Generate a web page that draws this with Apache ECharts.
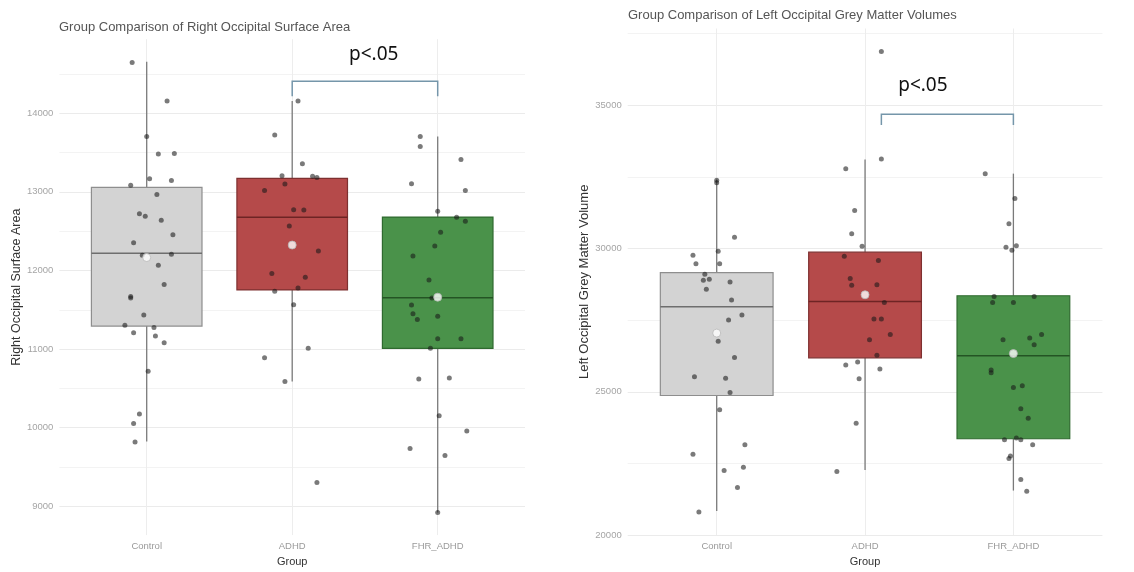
<!DOCTYPE html>
<html>
<head>
<meta charset="utf-8">
<script src="https://cdn.jsdelivr.net/npm/echarts@6/dist/echarts.min.js"></script>
<style>html,body{margin:0;padding:0;background:#fff;}#c{width:1134px;height:572px;}</style>
</head>
<body>
<div id="c"></div>
<script>
// ---------- DATA ----------
const categories = ['Control', 'ADHD', 'FHR_ADHD'];

// Left panel: Right Occipital Surface Area
const leftTitle = 'Group Comparison of Right Occipital Surface Area';
const leftYName = 'Right Occipital Surface Area';
const leftTicks = [9000, 10000, 11000, 12000, 13000, 14000];
const leftMinorTicks = [9500, 10500, 11500, 12500, 13500, 14500];
// [min, Q1, median, Q3, max]
const leftControlBox = [9824, 11292, 12218, 13057, 14654];
const leftAdhdBox = [10587, 11752, 12675, 13170, 14155];
const leftFhrBox = [8922, 11010, 11652, 12679, 13702];
const leftMeans = [12164, 12323, 11660];
const leftControlVals = [14645, 14155, 13702, 13480, 13488, 13166, 13145, 13082, 12965, 12721, 12688, 12637, 12453, 12352, 12193, 12206, 12067, 11820, 11670, 11650, 11434, 11304, 11275, 11208, 11166, 11082, 10717, 10176, 10054, 9820];
const leftControlJit = [-0.10, 0.14, 0.00, 0.08, 0.19, 0.02, 0.17, -0.11, 0.07, -0.05, -0.01, 0.10, 0.18, -0.09, -0.03, 0.17, 0.08, 0.12, -0.11, -0.11, -0.02, -0.15, 0.05, -0.09, 0.06, 0.12, 0.01, -0.05, -0.09, -0.08];
const leftAdhdVals = [14155, 13723, 13358, 13204, 13199, 13182, 13098, 13015, 12771, 12767, 12566, 12248, 11962, 11912, 11736, 11777, 11564, 11010, 10889, 10587, 9304];
const leftAdhdJit = [0.04, -0.12, 0.07, -0.07, 0.14, 0.17, -0.05, -0.19, 0.01, 0.08, -0.02, 0.18, -0.14, 0.09, -0.12, 0.04, 0.01, 0.11, -0.19, -0.05, 0.17];
const leftFhrVals = [13702, 13576, 13409, 13103, 13015, 12751, 12675, 12625, 12487, 12310, 12184, 11878, 11651, 11560, 11450, 11375, 11417, 11132, 11132, 11010, 10620, 10633, 10151, 9958, 9736, 9648, 8922];
const leftFhrJit = [-0.12, -0.12, 0.16, -0.18, 0.19, 0.00, 0.13, 0.19, 0.02, -0.02, -0.17, -0.06, -0.04, -0.18, -0.17, -0.14, 0.00, 0.00, 0.16, -0.05, -0.13, 0.08, 0.01, 0.20, -0.19, 0.05, 0.00];
// bracket: [x1, x2, yTop, yLegEnd], text: [x, y]
const leftBracket = [2, 3, 14406, 14214];
const leftPText = [2.56, 14742];

// Right panel: Left Occipital Grey Matter Volume
const rightTitle = 'Group Comparison of Left Occipital Grey Matter Volumes';
const rightYName = 'Left Occipital Grey Matter Volume';
const rightTicks = [20000, 25000, 30000, 35000];
const rightMinorTicks = [22500, 27500, 32500, 37500];
const rightControlBox = [20838, 24872, 27972, 29158, 32408];
const rightAdhdBox = [22269, 26186, 28156, 29874, 33110];
const rightFhrBox = [21554, 23362, 26255, 28353, 32615];
const rightMeans = [27050, 28387, 26336];
const rightControlVals = [32383, 32293, 30392, 29770, 29908, 29469, 29469, 29100, 28927, 28892, 28835, 28582, 28202, 27684, 27511, 26763, 26196, 25529, 25470, 24976, 24378, 23154, 22822, 22256, 22371, 21657, 20803];
const rightControlJit = [0.00, 0.00, 0.12, -0.16, 0.01, -0.14, 0.02, -0.08, -0.05, -0.09, 0.09, -0.07, 0.10, 0.17, 0.08, 0.01, 0.12, -0.15, 0.06, 0.09, 0.02, 0.19, -0.16, 0.05, 0.18, 0.14, -0.12];
const rightAdhdVals = [36877, 33123, 32788, 31326, 30517, 30081, 29735, 29584, 28951, 28733, 28720, 28121, 27544, 27544, 27004, 26817, 26278, 25933, 26038, 25796, 25460, 23904, 22221];
const rightAdhdJit = [0.11, 0.11, -0.13, -0.07, -0.09, -0.02, -0.14, 0.09, -0.10, 0.08, -0.09, 0.13, 0.06, 0.11, 0.17, 0.03, 0.08, -0.13, -0.05, 0.10, -0.04, -0.06, -0.19];
const rightFhrVals = [32615, 31751, 30862, 30047, 30102, 29943, 28329, 28329, 28121, 28121, 26817, 26877, 27005, 26646, 25760, 25668, 25148, 25208, 24412, 24078, 23327, 23386, 23327, 23154, 22670, 22763, 21944, 21530];
const rightFhrJit = [-0.19, 0.01, -0.03, -0.05, 0.02, -0.01, -0.13, 0.14, -0.14, 0.00, -0.07, 0.11, 0.19, 0.14, -0.15, -0.15, 0.00, 0.06, 0.05, 0.10, -0.06, 0.02, 0.05, 0.13, -0.03, -0.02, 0.05, 0.09];
const rightBracket = [2.11, 3.0, 34689, 34309];
const rightPText = [2.39, 35691];

const pLabel = 'p<.05';
const xLabel = 'Group';

// ---------- STYLE ----------
const fills = ['#d3d3d3', '#b54a4a', '#4a924a'];
const borders = ['#8e8e8e', '#7e3030', '#2f6a2f'];
const medians = ['#6e6e6e', '#6e2424', '#245424'];
const whiskerColor = '#7a7a7a';
const boxW = 0.76;
const baseFont = 'Liberation Sans, Arial, sans-serif';

function boxData(boxes) {
  return boxes.map((b, i) => [i + 1].concat(b));
}
function pts(vals, jit, g) {
  return vals.map((v, i) => [g + jit[i], v]);
}
function meanData(means) {
  return means.map((m, i) => [i + 1, m]);
}

function boxRender(params, api) {
  const x = api.value(0);
  const lo = api.value(1), q1 = api.value(2), med = api.value(3), q3 = api.value(4), hi = api.value(5);
  const idx = params.dataIndex;
  const w = api.size([boxW, 0])[0];
  const pLo = api.coord([x, lo]), pQ1 = api.coord([x, q1]), pMed = api.coord([x, med]);
  const pQ3 = api.coord([x, q3]), pHi = api.coord([x, hi]);
  return {
    type: 'group',
    children: [
      { type: 'line', shape: { x1: pHi[0], y1: pHi[1], x2: pQ3[0], y2: pQ3[1] }, style: { stroke: whiskerColor, lineWidth: 1.3 } },
      { type: 'line', shape: { x1: pQ1[0], y1: pQ1[1], x2: pLo[0], y2: pLo[1] }, style: { stroke: whiskerColor, lineWidth: 1.3 } },
      { type: 'rect', shape: { x: pQ3[0] - w / 2, y: pQ3[1], width: w, height: pQ1[1] - pQ3[1] }, style: { fill: fills[idx], stroke: borders[idx], lineWidth: 1.2 } },
      { type: 'line', shape: { x1: pMed[0] - w / 2, y1: pMed[1], x2: pMed[0] + w / 2, y2: pMed[1] }, style: { stroke: medians[idx], lineWidth: 1.5 } }
    ]
  };
}

function bracketRender(params, api) {
  const x1 = api.value(0), x2 = api.value(1), yt = api.value(2), yl = api.value(3);
  const a = api.coord([x1, yl]), b = api.coord([x1, yt]), c = api.coord([x2, yt]), d = api.coord([x2, yl]);
  return { type: 'polyline', shape: { points: [a, b, c, d] }, style: { fill: null, stroke: '#7596aa', lineWidth: 1.5 } };
}
function textRender(params, api) {
  const p = api.coord([api.value(0), api.value(1)]);
  return { type: 'text', x: p[0], y: p[1], style: { text: pLabel, fill: '#111', font: '19px "Noto Sans", "Open Sans", sans-serif', textAlign: 'center', textVerticalAlign: 'middle' } };
}

function makeX(gi, nameGap) {
  return {
    type: 'value', gridIndex: gi, min: 0.4, max: 3.6,
    name: xLabel, nameLocation: 'middle', nameGap: nameGap,
    nameTextStyle: { color: '#333', fontSize: 11, fontFamily: baseFont },
    axisLine: { show: false },
    axisTick: { show: false, customValues: [1, 2, 3] },
    axisLabel: { customValues: [1, 2, 3], formatter: v => categories[Math.round(v) - 1], color: '#9a9a9a', fontSize: 9.5, fontFamily: baseFont, margin: 6 },
    splitLine: { show: true, lineStyle: { color: '#ededed', width: 1 } }
  };
}
function makeY(gi, min, max, ticks, name, nameGap, nameSize) {
  return {
    type: 'value', gridIndex: gi, min: min, max: max,
    name: name, nameLocation: 'middle', nameRotate: 90, nameGap: nameGap,
    nameTextStyle: { color: '#333', fontSize: nameSize, fontFamily: baseFont },
    axisLine: { show: false },
    axisTick: { show: false, customValues: ticks },
    axisLabel: { customValues: ticks, formatter: v => String(v), color: '#a5a5a5', fontSize: 9.5, fontFamily: baseFont, margin: 6 },
    splitLine: { show: true, lineStyle: { color: '#ebebeb', width: 1 } }
  };
}
function makeYMinor(gi, min, max, ticks) {
  return {
    type: 'value', gridIndex: gi, min: min, max: max, position: 'right',
    axisLine: { show: false }, axisLabel: { show: false },
    axisTick: { show: false, customValues: ticks },
    splitLine: { show: true, lineStyle: { color: '#f3f3f3', width: 1 } }
  };
}

function panelSeries(xi, yi, boxes, means, groups, bracket, ptext) {
  const s = [];
  s.push({ type: 'custom', xAxisIndex: xi, yAxisIndex: yi, renderItem: boxRender, encode: { x: 0, y: [1, 2, 3, 4, 5] }, data: boxData(boxes), silent: true, z: 2 });
  groups.forEach((g, gi) => {
    s.push({ type: 'scatter', xAxisIndex: xi, yAxisIndex: yi, symbol: 'circle', symbolSize: 5, itemStyle: { color: 'rgba(25,25,25,0.72)' }, data: pts(g[0], g[1], gi + 1), silent: true, z: 3 });
  });
  s.push({ type: 'scatter', xAxisIndex: xi, yAxisIndex: yi, symbol: 'circle', symbolSize: 8, itemStyle: { color: '#ffffff', borderColor: '#b8b8b8', borderWidth: 1 }, data: meanData(means), silent: true, z: 4 });
  s.push({ type: 'custom', xAxisIndex: xi, yAxisIndex: yi, renderItem: bracketRender, encode: { x: [0, 1], y: [2, 3] }, data: [bracket], silent: true, z: 5 });
  s.push({ type: 'custom', xAxisIndex: xi, yAxisIndex: yi, renderItem: textRender, encode: { x: 0, y: 1 }, data: [ptext], silent: true, z: 5 });
  return s;
}

const chart = echarts.init(document.getElementById('c'), null, { renderer: 'canvas' });
const option = {
  backgroundColor: '#ffffff',
  animation: false,
  title: [
    { text: leftTitle, left: 54, top: 16, textStyle: { color: '#555', fontSize: 13, fontWeight: 'normal', fontFamily: baseFont } },
    { text: rightTitle, left: 623, top: 4, textStyle: { color: '#555', fontSize: 13, fontWeight: 'normal', fontFamily: baseFont } }
  ],
  grid: [
    { left: 59.4, right: 609, top: 39.2, bottom: 31.3 },
    { left: 627.7, right: 31.6, top: 28.5, bottom: 32 }
  ],
  xAxis: [makeX(0, 19.5), makeX(1, 20.5)],
  yAxis: [
    makeY(0, 8635, 14940, leftTicks, leftYName, 35, 12.5),
    makeY(1, 20000, 37680, rightTicks, rightYName, 36, 13),
    makeYMinor(0, 8635, 14940, leftMinorTicks),
    makeYMinor(1, 20000, 37680, rightMinorTicks)
  ],
  series: [].concat(
    panelSeries(0, 0, [leftControlBox, leftAdhdBox, leftFhrBox], leftMeans,
      [[leftControlVals, leftControlJit], [leftAdhdVals, leftAdhdJit], [leftFhrVals, leftFhrJit]], leftBracket, leftPText),
    panelSeries(1, 1, [rightControlBox, rightAdhdBox, rightFhrBox], rightMeans,
      [[rightControlVals, rightControlJit], [rightAdhdVals, rightAdhdJit], [rightFhrVals, rightFhrJit]], rightBracket, rightPText)
  )
};
chart.setOption(option);
</script>
</body>
</html>
